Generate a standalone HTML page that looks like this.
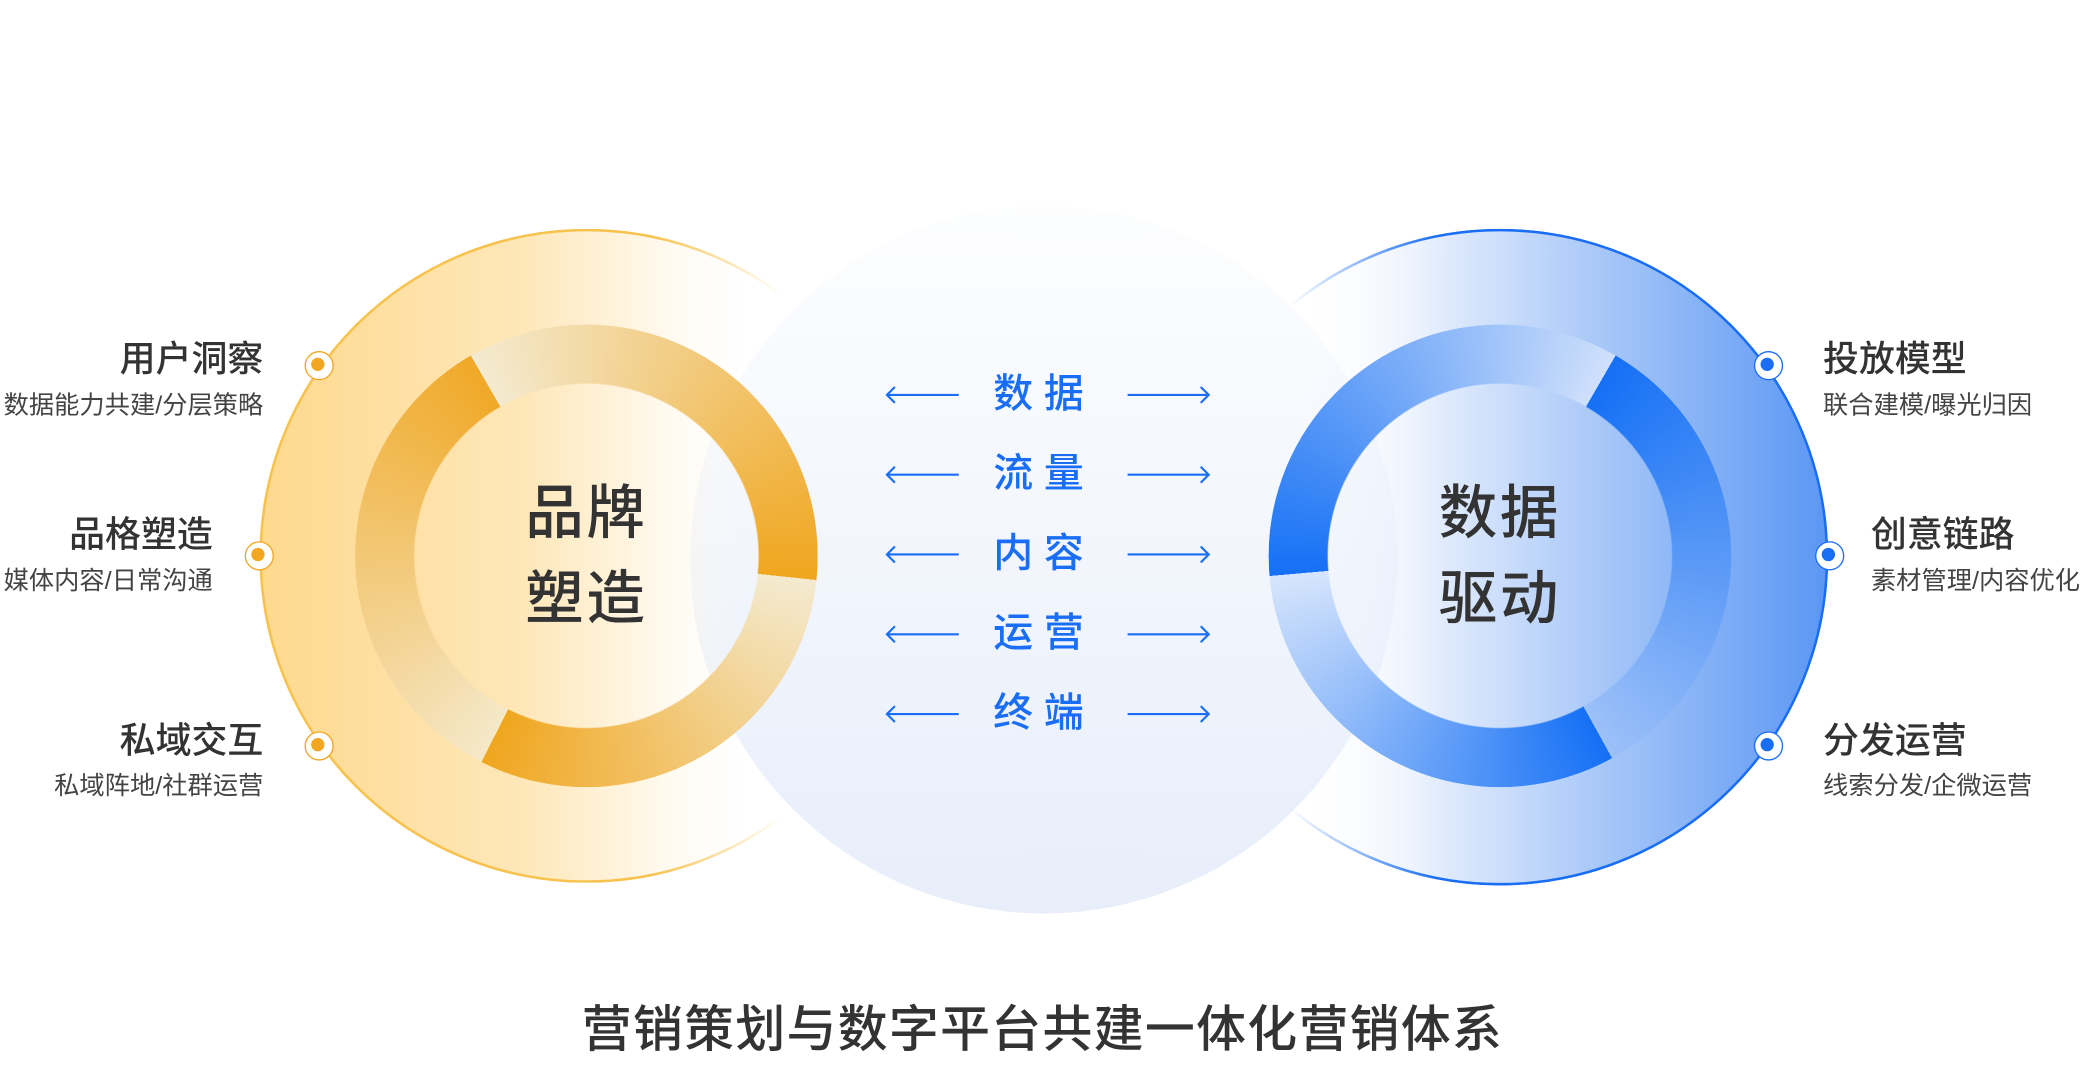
<!DOCTYPE html>
<html><head><meta charset="utf-8">
<style>
html,body{margin:0;padding:0;background:#fff;overflow:hidden}
body{width:2085px;height:1070px;position:relative}
#s{position:absolute;left:0;top:0;width:1568px;height:805px;transform:scale(1.32972);transform-origin:0 0;font-family:"Liberation Sans","Noto Sans CJK SC",sans-serif}
.a{position:absolute}
.c{position:absolute;border-radius:50%;box-sizing:border-box}
.ring{position:absolute;border-radius:50%;-webkit-mask:radial-gradient(circle,transparent 129px,#000 130px);mask:radial-gradient(circle,transparent 129px,#000 130px)}
.t{position:absolute;color:#333;font-size:27px;font-weight:500;white-space:nowrap;line-height:1}
.sub{position:absolute;color:#444;font-size:19px;white-space:nowrap;line-height:1}
.mid{position:absolute;left:700px;width:170px;text-align:center;color:#1a6ef5;font-size:30px;font-weight:500;letter-spacing:8px;line-height:1}
.big{position:absolute;font-size:44px;font-weight:500;color:#333;line-height:64px;text-align:center;width:200px;letter-spacing:2px}
.dot{position:absolute;width:22px;height:22px;border-radius:50%;box-sizing:border-box;background:#fff}
.dot i{position:absolute;left:4px;top:4px;width:10px;height:10px;border-radius:50%}
.o{border:1.5px solid #f2a622}.o i{background:#f2a622}
.b{border:1.5px solid #1a6ef5}.b i{background:#1a6ef5}
</style></head><body><div id="s">
<div class="c" style="left:519px;top:155px;width:532px;height:532px;background:linear-gradient(180deg,rgba(244,247,252,0.2),#e7eefa);"></div>
<div class="c" style="left:195px;top:172px;width:492px;height:492px;border:2px solid #f8c24e;background:linear-gradient(90deg,#fed98e 0%,#fee7b8 40%,rgba(255,245,225,0.6) 62%,rgba(255,255,255,0) 75%);-webkit-mask:linear-gradient(90deg,#000 60%,rgba(0,0,0,0) 80%);mask:linear-gradient(90deg,#000 60%,rgba(0,0,0,0) 80%)"></div>
<div class="c" style="left:881px;top:172px;width:494px;height:494px;border:2px solid #1a6ef5;background:linear-gradient(90deg,rgba(255,255,255,0) 20%,#e8f0fd 38%,#a9c8f8 65%,#5b97f4 100%);-webkit-mask:linear-gradient(90deg,rgba(0,0,0,0) 18%,#000 40%);mask:linear-gradient(90deg,rgba(0,0,0,0) 18%,#000 40%)"></div>
<div class="ring" style="left:267px;top:244px;width:348px;height:348px;background:conic-gradient(from 330deg,#f4ead0 0deg,#f0a61e 126deg,#f4ead0 126deg,#f0a61e 237deg,#f5e8c8 237deg,#f0a928 360deg)"></div>
<div class="ring" style="left:954px;top:244px;width:348px;height:348px;background:conic-gradient(from 30deg,#1570f5 0deg,#9cc0f8 121deg,#1570f5 121deg,#d6e5fc 235deg,#1570f5 235deg,#cfe0fb 360deg)"></div>
<div class="big" style="left:341px;top:355px">品牌<br>塑造</div>
<div class="big" style="left:1028px;top:355px">数据<br>驱动</div>
<div class="t" style="right:1370px;top:257px">用户洞察</div><div class="sub" style="right:1370px;top:296px">数据能力共建/分层策略</div>
<div class="t" style="right:1408px;top:389px">品格塑造</div><div class="sub" style="right:1408px;top:428px">媒体内容/日常沟通</div>
<div class="t" style="right:1370px;top:544px">私域交互</div><div class="sub" style="right:1370px;top:582px">私域阵地/社群运营</div>
<div class="dot o" style="left:229px;top:264px"><i></i></div>
<div class="dot o" style="left:184px;top:407px"><i></i></div>
<div class="dot o" style="left:229px;top:550px"><i></i></div>
<div class="t" style="left:1371px;top:257px">投放模型</div><div class="sub" style="left:1371px;top:296px">联合建模/曝光归因</div>
<div class="t" style="left:1407px;top:389px">创意链路</div><div class="sub" style="left:1407px;top:428px">素材管理/内容优化</div>
<div class="t" style="left:1371px;top:544px">分发运营</div><div class="sub" style="left:1371px;top:582px">线索分发/企微运营</div>
<div class="dot b" style="left:1319px;top:264px"><i></i></div>
<div class="dot b" style="left:1365px;top:407px"><i></i></div>
<div class="dot b" style="left:1319px;top:550px"><i></i></div>
<div class="mid" style="top:282px">数据</div>
<div class="mid" style="top:342px">流量</div>
<div class="mid" style="top:402px">内容</div>
<div class="mid" style="top:462px">运营</div>
<div class="mid" style="top:522px">终端</div>
<svg class="a" style="left:0;top:0" width="1568" height="805">
<g stroke="#1a6ef5" stroke-width="1.6" fill="none">
<g id="ar"><path d="M667 297H721M673 291L667 297L673 303"/><path d="M848 297H909M903 291L909 297L903 303"/></g>
<use href="#ar" y="60"/><use href="#ar" y="120"/><use href="#ar" y="180"/><use href="#ar" y="240"/>
</g></svg>
<div class="a" style="left:0;width:1568px;text-align:center;top:756px;font-size:37.5px;font-weight:500;color:#333;letter-spacing:1px;line-height:1">营销策划与数字平台共建一体化营销体系</div>
</div></body></html>
